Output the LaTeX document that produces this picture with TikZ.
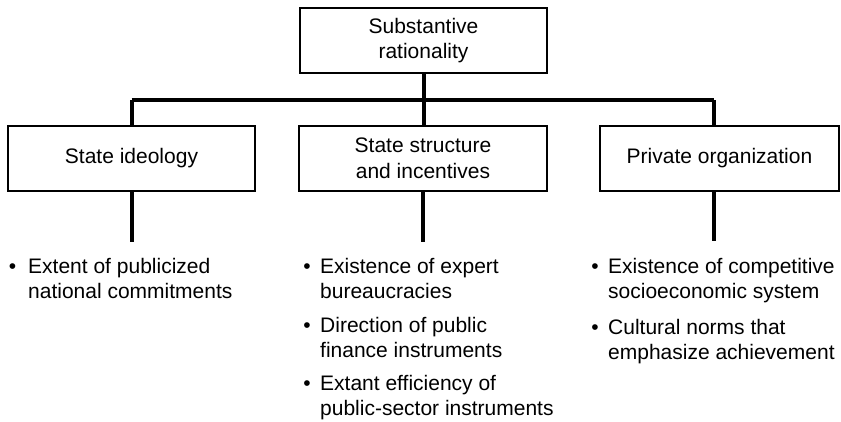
\documentclass[tikz,border=0pt]{standalone}
\usepackage{fontspec}
\setmainfont{Liberation Sans}
% multi-line block whose reference point is the first baseline
\newcommand{\stack}[1]{\begin{tabular}[t]{@{}l@{}}#1\end{tabular}}
\begin{document}
\begin{tikzpicture}[x=1pt,y=-1pt,
  txt/.style={font=\fontsize{21}{25.5}\selectfont},
  box/.style={txt,draw,line width=1.2pt,minimum height=65pt,inner sep=0pt,align=center,fill=white},
  link/.style={line width=4pt},
  item/.style={txt,anchor=base west,inner sep=0pt},
  dot/.style={txt,anchor=base,inner sep=0pt}]
\useasboundingbox[fill=white] (0,0) rectangle (841,421);

% boxes
\node[box,minimum width=247pt] (top) at (423.5,40.5) {Substantive\\rationality};
\node[box,minimum width=247pt] (ideo) at (131.5,158.5) {State ideology};
\node[box,minimum width=248pt] (struct) at (423,158.5) {State structure\\and incentives};
\node[box,minimum width=239pt] (priv) at (719.5,158.5) {Private organization};

% junction points on the horizontal bar
\coordinate (jL) at (131.5,100);
\coordinate (jM) at (423.5,100);
\coordinate (jR) at (714,100);

% free ends of the lower stems
\coordinate (eL) at (131.5,242);
\coordinate (eM) at (423,242);
\coordinate (eR) at (714,241);

% tree connectors
\begin{scope}[link]
  \draw (top.south) -- (jM);
  \draw (jL) -- (jR);
  \draw (jL) -- (ideo.north);
  \draw (jM) -- (struct.north -| jM);
  \draw (jR) -- (jR |- priv.north);
  \draw (ideo.south) -- (eL);
  \draw (struct.south) -- (eM);
  \draw (jR |- priv.south) -- (eR);
\end{scope}

% left column items
\node[dot] (bL1) at (12.5,273) {•};
\node[item] (tL1) at (28,273) {\stack{Extent of publicized\\national commitments}};

% middle column items
\node[dot] (bM1) at (307,273) {•};
\node[item] (tM1) at (320,273) {\stack{Existence of expert\\bureaucracies}};
\node[dot] (bM2) at (307,332) {•};
\node[item] (tM2) at (320,332) {\stack{Direction of public\\finance instruments}};
\node[dot] (bM3) at (307,390) {•};
\node[item] (tM3) at (320,390) {\stack{Extant efficiency of\\public-sector instruments}};

% right column items
\node[dot] (bR1) at (595,273) {•};
\node[item] (tR1) at (608,273) {\stack{Existence of competitive\\socioeconomic system}};
\node[dot] (bR2) at (595,334) {•};
\node[item] (tR2) at (608,334) {\stack{Cultural norms that\\emphasize achievement}};
\end{tikzpicture}
\end{document}
